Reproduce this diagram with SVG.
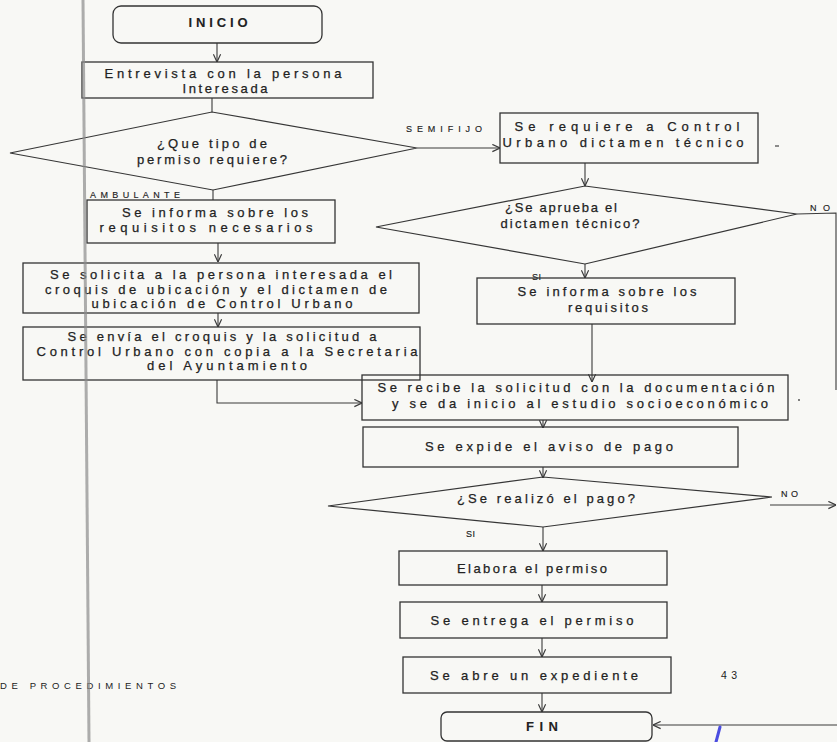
<svg xmlns="http://www.w3.org/2000/svg" width="837" height="742" viewBox="0 0 837 742">
  <defs>
    <style>
      .box { fill: none; stroke: #333; stroke-width: 1.3; }
      .dec { fill: none; stroke: #363636; stroke-width: 1.2; }
      .ln { fill: none; stroke: #3a3a3a; stroke-width: 1.1; }
      .arr { marker-end: url(#tip); }
      text { font-family: "Liberation Sans", Arial, sans-serif; fill: #222; }
      .t { font-size: 13px; text-anchor: middle; stroke: #222; stroke-width: 0.25; }
      .b { font-weight: bold; stroke-width: 0.1; }
      .lbl { font-size: 9px; stroke: #222; stroke-width: 0.15; }
    </style>
    <marker id="tip" markerUnits="userSpaceOnUse" viewBox="0 0 10 10" refX="9.5" refY="5" markerWidth="9" markerHeight="9" orient="auto">
      <path d="M1,1 L9.5,5 L1,9" fill="none" stroke="#3a3a3a" stroke-width="1.3"/>
    </marker>
  </defs>

  <rect x="0" y="0" width="837" height="742" fill="#f8f8f5"/>

  <!-- connectors -->
  <g id="connectors">
    <path class="ln arr" d="M217,43 V62"/>
    <path class="ln" d="M212,98 V112"/>
    <path class="ln arr" d="M417,148 H500"/>
    <path class="ln" d="M213,190 V200"/>
    <path class="ln arr" d="M218,243 V262"/>
    <path class="ln arr" d="M218,313 V327"/>
    <path class="ln arr" d="M217,380 V403 H362"/>
    <path class="ln arr" d="M585,163 V186"/>
    <path class="ln arr" d="M585,264 V278"/>
    <path class="ln arr" d="M592,324 V382"/>
    <path class="ln" d="M797,214 L836,213 V390"/>
    <path class="ln arr" d="M543,420 V428"/>
    <path class="ln arr" d="M543,467 V478"/>
    <path class="ln arr" d="M770,505 H836"/>
    <path class="ln arr" d="M543,527 V551"/>
    <path class="ln arr" d="M542,585 V602"/>
    <path class="ln arr" d="M542,638 V657"/>
    <path class="ln arr" d="M542,693 V712"/>
    <path class="ln arr" d="M837,725 H653"/>
    <text class="lbl" x="406" y="132" textLength="76" lengthAdjust="spacing">SEMIFIJO</text>
    <text class="lbl" x="90" y="198" textLength="90" lengthAdjust="spacing">AMBULANTE</text>
    <text class="lbl" x="810" y="211" textLength="20" lengthAdjust="spacing">NO</text>
    <text class="lbl" x="532" y="280" textLength="9" lengthAdjust="spacing">SI</text>
    <text class="lbl" x="781" y="497" textLength="17" lengthAdjust="spacing">NO</text>
    <text class="lbl" x="466" y="537" textLength="9" lengthAdjust="spacing">SI</text>
  </g>

  <g id="inicio">
    <rect class="box" x="113" y="6" width="209" height="37" rx="8"/>
    <text class="t b" x="218" y="27" font-size="14" textLength="59" lengthAdjust="spacing">INICIO</text>
  </g>

  <g id="entrevista">
    <rect class="box" x="82" y="62" width="291" height="36"/>
    <text class="t" x="223" y="78" textLength="237" lengthAdjust="spacing">Entrevista con la persona</text>
    <text class="t" x="225" y="93" textLength="85" lengthAdjust="spacing">Interesada</text>
  </g>

  <g id="tipo-permiso">
    <path class="dec" d="M10,153 L212,112 L417,148 L213,190 Z"/>
    <text class="t" x="212" y="148" textLength="110" lengthAdjust="spacing">¿Que tipo de</text>
    <text class="t" x="212" y="163.5" textLength="150" lengthAdjust="spacing">permiso requiere?</text>
  </g>

  <g id="dictamen-tecnico">
    <rect class="box" x="500" y="113" width="258" height="50"/>
    <text class="t" x="627" y="131" textLength="225" lengthAdjust="spacing">Se requiere a Control</text>
    <text class="t" x="623" y="146.5" textLength="241" lengthAdjust="spacing">Urbano dictamen técnico</text>
  </g>

  <g id="aprueba-dictamen">
    <path class="dec" d="M376,227 L585,186 L797,214 L585,264 Z"/>
    <text class="t" x="561" y="212" textLength="112" lengthAdjust="spacing">¿Se aprueba el</text>
    <text class="t" x="570" y="228" textLength="139" lengthAdjust="spacing">dictamen técnico?</text>
  </g>

  <g id="informa-necesarios">
    <rect class="box" x="87" y="200" width="248" height="43"/>
    <text class="t" x="215" y="217" textLength="186" lengthAdjust="spacing">Se informa sobre los</text>
    <text class="t" x="206" y="232" textLength="213" lengthAdjust="spacing">requisitos necesarios</text>
  </g>

  <g id="solicita-croquis">
    <rect class="box" x="23" y="263" width="396" height="50"/>
    <text class="t" x="221" y="279" textLength="342" lengthAdjust="spacing">Se solicita a la persona interesada el</text>
    <text class="t" x="216" y="293.5" textLength="342" lengthAdjust="spacing">croquis de ubicación y el dictamen de</text>
    <text class="t" x="222" y="308" textLength="261" lengthAdjust="spacing">ubicación de Control Urbano</text>
  </g>

  <g id="envia-croquis">
    <rect class="box" x="23" y="327" width="397" height="53"/>
    <text class="t" x="222" y="341" textLength="309" lengthAdjust="spacing">Se envía el croquis y la solicitud a</text>
    <text class="t" x="227" y="355.5" textLength="381" lengthAdjust="spacing">Control Urbano con copia a la Secretaria</text>
    <text class="t" x="227" y="370" textLength="160" lengthAdjust="spacing">del Ayuntamiento</text>
  </g>

  <g id="informa-requisitos">
    <rect class="box" x="477" y="278" width="258" height="46"/>
    <text class="t" x="607" y="296" textLength="179" lengthAdjust="spacing">Se informa sobre los</text>
    <text class="t" x="608" y="311.5" textLength="80" lengthAdjust="spacing">requisitos</text>
  </g>

  <g id="recibe-solicitud">
    <rect class="box" x="362" y="375" width="426" height="45"/>
    <text class="t" x="576" y="392" textLength="397" lengthAdjust="spacing">Se recibe la solicitud con la documentación</text>
    <text class="t" x="580" y="407.5" textLength="376" lengthAdjust="spacing">y se da inicio al estudio socioeconómico</text>
  </g>

  <g id="aviso-pago">
    <rect class="box" x="363" y="427" width="375" height="40"/>
    <text class="t" x="549" y="451" textLength="248" lengthAdjust="spacing">Se expide el aviso de pago</text>
  </g>

  <g id="realizo-pago">
    <path class="dec" d="M328,506 L543,477 L772,497 L543,527 Z"/>
    <text class="t" x="546" y="503" textLength="178" lengthAdjust="spacing">¿Se realizó el pago?</text>
  </g>

  <g id="elabora">
    <rect class="box" x="399" y="551" width="268" height="34"/>
    <text class="t" x="532" y="573" textLength="150" lengthAdjust="spacing">Elabora el permiso</text>
  </g>

  <g id="entrega">
    <rect class="box" x="400" y="602" width="267" height="36"/>
    <text class="t" x="532" y="625" textLength="203" lengthAdjust="spacing">Se entrega el permiso</text>
  </g>

  <g id="expediente">
    <rect class="box" x="403" y="657" width="268" height="36"/>
    <text class="t" x="534" y="680" textLength="208" lengthAdjust="spacing">Se abre un expediente</text>
  </g>

  <g id="fin">
    <rect class="box" x="441" y="712" width="211" height="29" rx="6"/>
    <text class="t b" x="542" y="731" font-size="13" textLength="32" lengthAdjust="spacing">FIN</text>
  </g>

  <!-- page furniture -->
  <text x="0" y="689" font-size="9.5" textLength="176" lengthAdjust="spacing">DE PROCEDIMIENTOS</text>
  <text x="729" y="679" font-size="10.5" text-anchor="middle" textLength="16" lengthAdjust="spacing">43</text>
  <path d="M775,146 H779" stroke="#444" stroke-width="1.2"/>
  <circle cx="799" cy="400" r="0.9" fill="#444"/>
  <path d="M720,727 L716,742" stroke="#4b4de0" stroke-width="3" stroke-linecap="round"/>
  <path d="M83,0 L89,742" stroke="#8d8d8d" stroke-width="3" opacity="0.7"/>
</svg>
